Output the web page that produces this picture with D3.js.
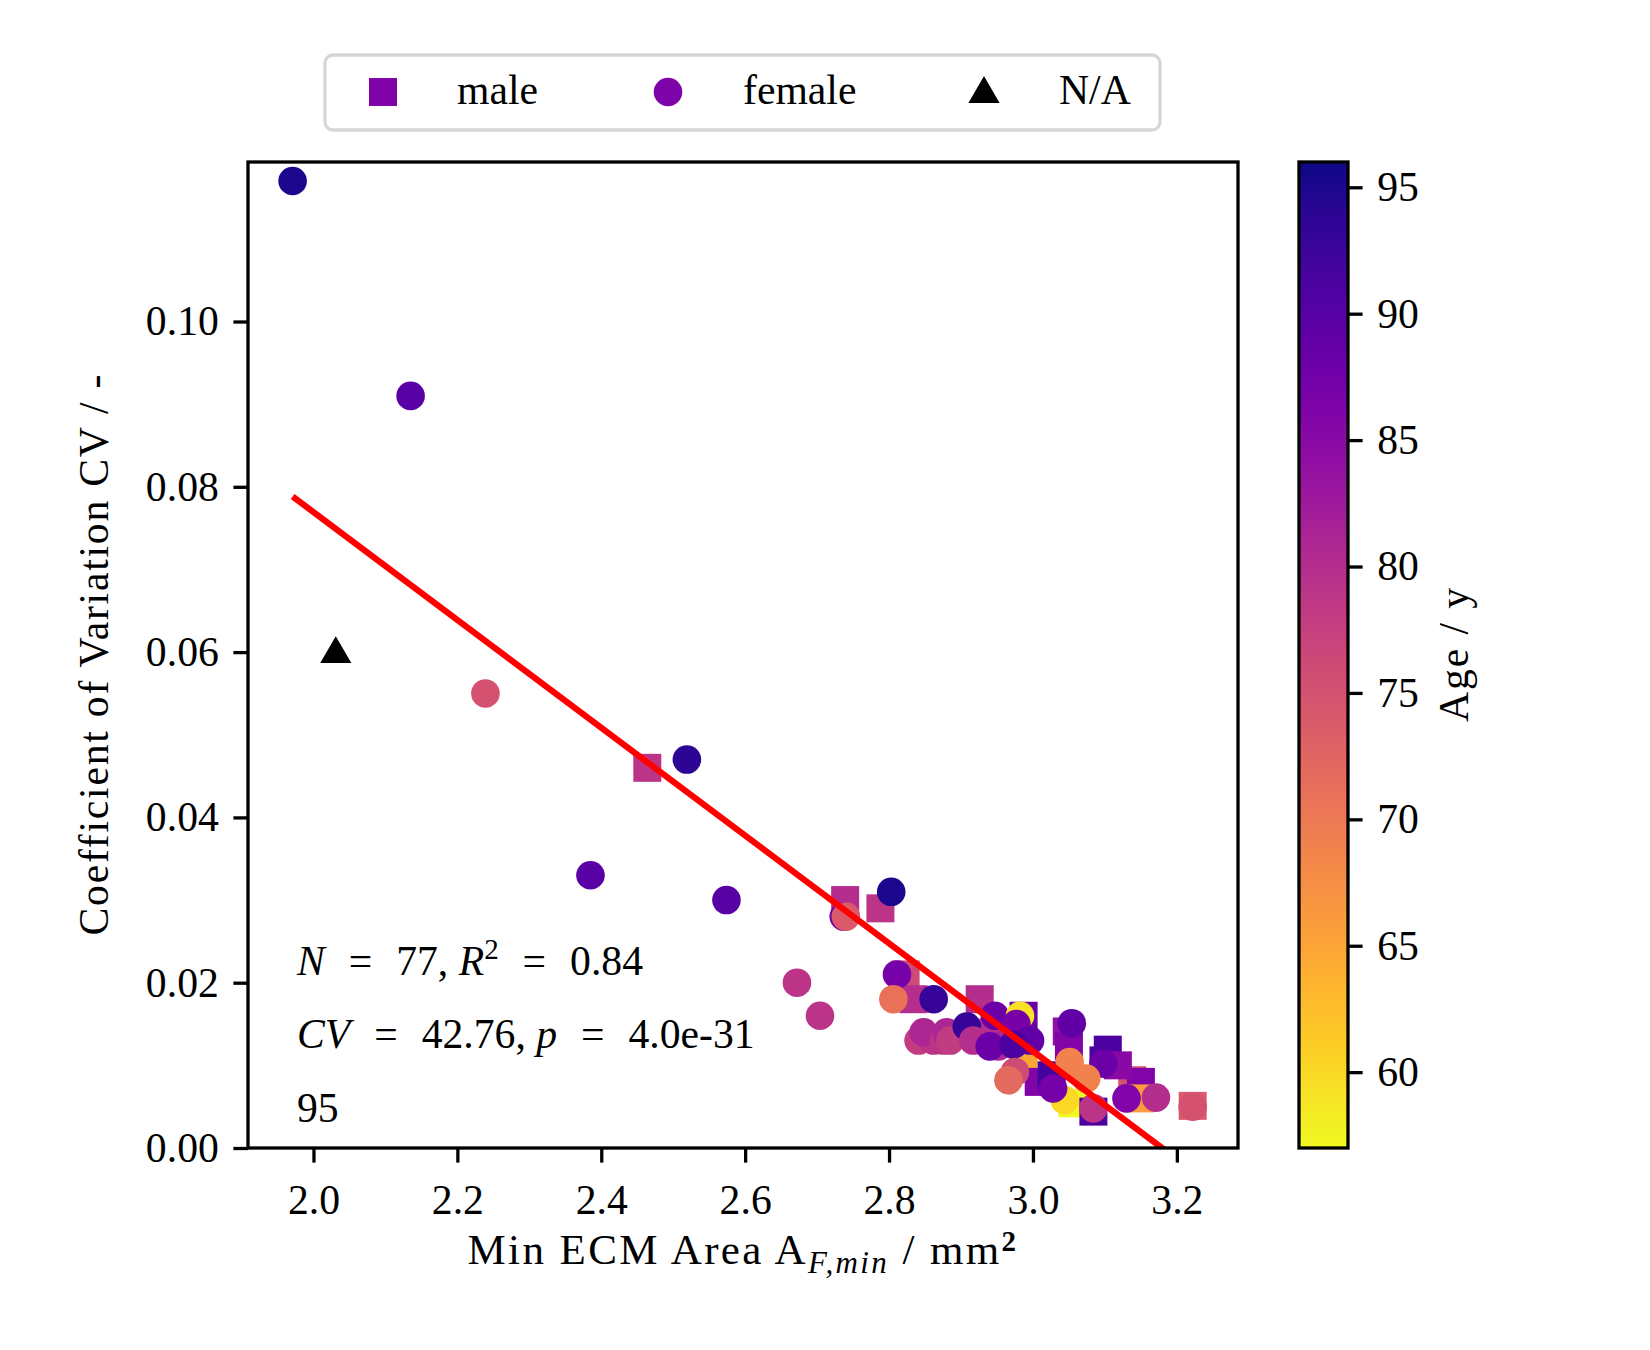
<!DOCTYPE html>
<html>
<head>
<meta charset="utf-8">
<script src="https://cdn.jsdelivr.net/npm/d3@7"></script>
<style>
  body { margin: 0; background: #fff; }
  text { font-family: "Liberation Serif", "DejaVu Serif", serif; fill: #000; }
</style>
</head>
<body>
<svg id="chart" width="1650" height="1350"></svg>
<script>
// male -> squares
const maleArea = [2.464, 2.739, 2.788, 2.823, 2.834, 2.926, 2.945, 2.987, 2.987, 3.008, 3.026, 3.055, 3.084, 3.098, 3.104, 3.047, 3.050, 3.138, 3.150, 3.149, 3.118, 3.222];
const maleCV   = [0.046, 0.030, 0.029, 0.021, 0.018, 0.018, 0.014, 0.016, 0.011, 0.008, 0.0088, 0.0054, 0.0044, 0.0106, 0.0119, 0.0141, 0.0123, 0.0082, 0.0080, 0.0060, 0.0100, 0.0051];
const maleAge  = [79, 80, 79, 76, 80, 80, 80, 88, 65, 86, 92, 57, 91, 91, 91, 84, 86, 75, 86, 66, 85, 74];

// female -> circles (drawing order back to front)
const femaleArea = [1.971, 2.135, 2.239, 2.519, 2.385, 2.574, 2.737, 2.740, 2.803, 2.672, 2.704, 2.811, 2.806, 2.862, 2.841, 2.862, 2.848, 2.876, 2.880, 2.885, 2.908, 2.917, 2.952, 2.940, 2.947, 2.982, 2.977, 2.996, 2.973, 2.975, 2.966, 3.044, 3.028, 3.098, 3.051, 3.074, 3.084, 3.054, 3.130, 3.171, 3.222];
const femaleCV   = [0.117, 0.091, 0.055, 0.047, 0.033, 0.030, 0.028, 0.028, 0.031, 0.020, 0.016, 0.021, 0.018, 0.018, 0.013, 0.013, 0.014, 0.013, 0.014, 0.013, 0.0147, 0.013, 0.0123, 0.0123, 0.016, 0.016, 0.015, 0.013, 0.0125, 0.0092, 0.0082, 0.0058, 0.0072, 0.0102, 0.0104, 0.0084, 0.0048, 0.0151, 0.0060, 0.0061, 0.0050];
const femaleAge  = [95, 90, 75, 94, 90, 90, 87, 74, 95, 79, 79, 87, 71, 93, 78, 79, 81, 79, 81, 78, 93, 80, 81, 88, 88, 59, 87, 89, 91, 76, 72, 60, 87, 88, 69, 69, 79, 89, 86, 80, 75];

// sex not given -> triangles, no age
const naArea = [2.031];
const naCV   = [0.060];

// linear fit
const fitIntercept = 0.2074;
const fitSlope = -0.06523;

const xTicks = [2.0, 2.2, 2.4, 2.6, 2.8, 3.0, 3.2];
const yTicks = [0.00, 0.02, 0.04, 0.06, 0.08, 0.10];
const ageTicks = [60, 65, 70, 75, 80, 85, 90, 95];
const legendLabels = ["male", "female", "N/A"];
const statLines = ["N = 77, R² = 0.84", "CV = 42.76, p = 4.0e-31", "95"];

const svg = d3.select("#chart");
const plot = { left: 248, right: 1238, top: 162, bottom: 1148 };
const cbar = { left: 1299, right: 1348 };
const FS = 41.7;
const lw = 3.3;

const x = d3.scaleLinear().domain([1.909, 3.285]).range([plot.left, plot.right]);
const y = d3.scaleLinear().domain([0, 0.1193]).range([plot.bottom, plot.top]);
const ageScale = d3.scaleLinear().domain([57, 96]).range([plot.bottom, plot.top]);
const color = d3.scaleSequential([96, 57], d3.interpolatePlasma);

svg.append("rect").attr("width", 1650).attr("height", 1350).attr("fill", "#fff");

svg.append("defs").append("clipPath").attr("id", "clip")
  .append("rect")
  .attr("x", plot.left).attr("y", plot.top)
  .attr("width", plot.right - plot.left).attr("height", plot.bottom - plot.top);

const side = 28, rad = 14.3;
const marks = svg.append("g").attr("clip-path", "url(#clip)");

// squares first, then circles, then the N/A triangle
marks.selectAll("rect.m").data(d3.range(maleArea.length)).join("rect")
  .attr("class", "m")
  .attr("x", i => x(maleArea[i]) - side / 2)
  .attr("y", i => y(maleCV[i]) - side / 2)
  .attr("width", side).attr("height", side)
  .attr("fill", i => color(maleAge[i]));

marks.selectAll("circle.f").data(d3.range(femaleArea.length)).join("circle")
  .attr("class", "f")
  .attr("cx", i => x(femaleArea[i]))
  .attr("cy", i => y(femaleCV[i]))
  .attr("r", rad)
  .attr("fill", i => color(femaleAge[i]));

const tri = d3.symbol().type(d3.symbolTriangle).size(420);
marks.selectAll("path.na").data(d3.range(naArea.length)).join("path")
  .attr("class", "na")
  .attr("transform", i => `translate(${x(naArea[i])},${y(naCV[i]) + 2})`)
  .attr("d", tri)
  .attr("fill", "#000");

// regression line
const allArea = maleArea.concat(femaleArea, naArea);
const fitX = d3.extent(allArea);
marks.append("path")
  .datum(fitX)
  .attr("fill", "none")
  .attr("stroke", "#ff0000")
  .attr("stroke-width", 6.25)
  .attr("d", d3.line().x(d => x(d)).y(d => y(fitIntercept + fitSlope * d)));

// axes
function styleAxis(g) {
  g.select(".domain").remove();
  g.selectAll(".tick line").attr("stroke", "#000").attr("stroke-width", lw);
  g.selectAll(".tick text").style("font-size", FS + "px").attr("fill", "#000");
}

svg.append("g")
  .attr("transform", `translate(0,${plot.bottom})`)
  .call(d3.axisBottom(x).tickValues(xTicks).tickFormat(d3.format(".1f")).tickSize(14.6).tickPadding(12))
  .call(styleAxis)
  .selectAll(".tick text").attr("dy", "0.95em");

svg.append("g")
  .attr("transform", `translate(${plot.left},0)`)
  .call(d3.axisLeft(y).tickValues(yTicks).tickFormat(d3.format(".2f")).tickSize(14.6).tickPadding(14.6))
  .call(styleAxis);

svg.append("rect")
  .attr("x", plot.left).attr("y", plot.top)
  .attr("width", plot.right - plot.left).attr("height", plot.bottom - plot.top)
  .attr("fill", "none").attr("stroke", "#000").attr("stroke-width", lw);

// axis labels
const xl = svg.append("text")
  .attr("x", (plot.left + plot.right) / 2).attr("y", 1264)
  .attr("text-anchor", "middle").style("font-size", "43px").style("letter-spacing", "2.4px");
xl.append("tspan").text("Min ECM Area A");
xl.append("tspan").text("F,min").style("font-style", "italic").style("font-size", "31px").attr("dy", 9);
xl.append("tspan").text(" / mm").attr("dy", -9);
xl.append("tspan").text("2").style("font-weight", "bold").style("font-size", "29px").attr("dy", -13);

svg.append("text")
  .attr("transform", `translate(${108},${(plot.top + plot.bottom) / 2}) rotate(-90)`)
  .attr("text-anchor", "middle").style("font-size", FS + "px")
  .attr("textLength", 561).attr("lengthAdjust", "spacing")
  .text("Coefficient of Variation CV / -");

// stats text
const eqGap = "13.5px";
const stats = svg.append("g").style("font-size", FS + "px");
const s1 = stats.append("text").attr("x", 297).attr("y", 975);
s1.append("tspan").text("N").style("font-style", "italic");
s1.append("tspan").text(" = ").style("word-spacing", eqGap);
s1.append("tspan").text("77, ");
s1.append("tspan").text("R").style("font-style", "italic");
s1.append("tspan").text("2").style("font-size", "29px").attr("dy", -16);
s1.append("tspan").text(" = ").style("word-spacing", eqGap).attr("dy", 16);
s1.append("tspan").text("0.84");
const s2 = stats.append("text").attr("x", 297).attr("y", 1048);
s2.append("tspan").text("CV").style("font-style", "italic");
s2.append("tspan").text(" = ").style("word-spacing", eqGap);
s2.append("tspan").text("42.76, ");
s2.append("tspan").text("p").style("font-style", "italic");
s2.append("tspan").text(" = ").style("word-spacing", eqGap);
s2.append("tspan").text("4.0e-31");
stats.append("text").attr("x", 297).attr("y", 1122).text(statLines[2]);

// colorbar
const grad = svg.select("defs").append("linearGradient")
  .attr("id", "cb").attr("x1", 0).attr("x2", 0).attr("y1", 1).attr("y2", 0);
grad.selectAll("stop").data(d3.range(0, 1.0001, 0.05)).join("stop")
  .attr("offset", d => d)
  .attr("stop-color", d => color(57 + d * (96 - 57)));

svg.append("rect")
  .attr("x", cbar.left).attr("y", plot.top)
  .attr("width", cbar.right - cbar.left).attr("height", plot.bottom - plot.top)
  .attr("fill", "url(#cb)").attr("stroke", "#000").attr("stroke-width", lw);

svg.append("g")
  .attr("transform", `translate(${cbar.right},0)`)
  .call(d3.axisRight(ageScale).tickValues(ageTicks).tickSize(14.6).tickPadding(14.6))
  .call(styleAxis);

svg.append("text")
  .attr("transform", `translate(${1468},${(plot.top + plot.bottom) / 2}) rotate(-90)`)
  .attr("text-anchor", "middle").style("font-size", FS + "px")
  .attr("textLength", 134).attr("lengthAdjust", "spacing")
  .text("Age / y");

// legend
const leg = svg.append("g");
leg.append("rect")
  .attr("x", 325).attr("y", 55).attr("width", 835).attr("height", 75)
  .attr("rx", 8).attr("fill", "#fff").attr("stroke", "#d6d6d6").attr("stroke-width", 3.3);
const legX = [383, 668, 984];
const legTextX = [457, 743, 1059];
const legY = 92;
const legColor = d3.interpolatePlasma(0.25);
leg.append("rect").attr("x", legX[0] - side / 2).attr("y", legY - side / 2)
  .attr("width", side).attr("height", side).attr("fill", legColor);
leg.append("circle").attr("cx", legX[1]).attr("cy", legY).attr("r", rad).attr("fill", legColor);
leg.append("path").attr("transform", `translate(${legX[2]},${legY + 2})`).attr("d", tri).attr("fill", "#000");
leg.selectAll("text").data(legendLabels).join("text")
  .attr("x", (d, i) => legTextX[i]).attr("y", 104)
  .style("font-size", FS + "px")
  .text(d => d);
</script>
</body>
</html>
